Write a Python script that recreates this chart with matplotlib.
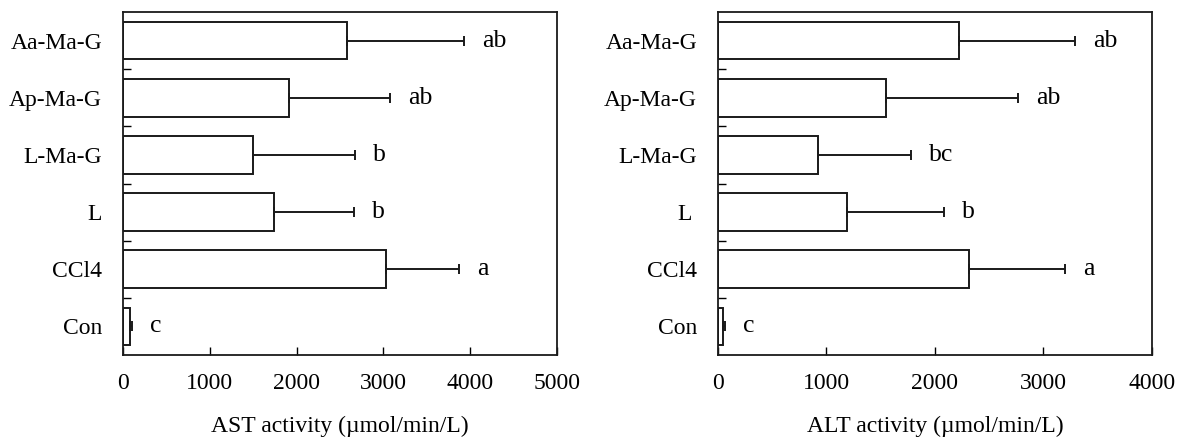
import matplotlib
matplotlib.use("Agg")
import matplotlib.pyplot as plt
import numpy as np

plt.rcParams["font.family"] = ["Liberation Serif", "DejaVu Serif"]
plt.rcParams["font.size"] = 17

# bottom to top
groups = ["Con", "CCl4", "L", "L-Ma-G", "Ap-Ma-G", "Aa-Ma-G"]

ast_mean = [85, 3026, 1739, 1500, 1910, 2579]
ast_sd = [22, 844, 917, 1177, 1172, 1355]
ast_letters = ["c", "a", "b", "b", "ab", "ab"]

alt_mean = [45, 2318, 1188, 919, 1551, 2224]
alt_sd = [17, 881, 898, 863, 1216, 1071]
alt_letters = ["c", "a", "b", "bc", "ab", "ab"]


def draw_panel(ax, means, sds, letters, xmax, xlabel, ylabels):
    y = np.arange(len(means))
    ax.barh(y, means, height=0.66, color="white", edgecolor="#1a1a1a", linewidth=1.4)
    ax.errorbar(means, y, xerr=[np.zeros(len(sds)), sds], fmt="none",
                ecolor="#1a1a1a", elinewidth=1.4, capsize=3.5, capthick=1.4)
    for yi, m, s, lab in zip(y, means, sds, letters):
        ax.annotate(lab, (m + s, yi), xytext=(13, 0), textcoords="offset points",
                    ha="left", va="center", fontsize=18.5)
    ax.set_xlim(0, xmax)
    ax.set_ylim(-0.5, len(means) - 0.5)
    ax.set_xticks(np.arange(0, xmax + 1, 1000))
    ax.set_yticks(y)
    ax.set_yticklabels(ylabels)
    ax.set_yticks(y[:-1] + 0.5, minor=True)
    ax.tick_params(axis="x", direction="in", length=6, width=1.0, pad=13, labelsize=17)
    ax.tick_params(axis="y", which="major", length=0, pad=15, labelsize=17)
    ax.tick_params(axis="y", which="minor", direction="in", length=6, width=1.0)
    ax.set_xlabel(xlabel, fontsize=17, labelpad=16)
    for sp in ax.spines.values():
        sp.set_linewidth(1.3)
        sp.set_color("#1a1a1a")


fig = plt.figure(figsize=(11.77, 4.38), dpi=100)
ax1 = fig.add_axes([0.1045, 0.1895, 0.3687, 0.783])
ax2 = fig.add_axes([0.610, 0.1895, 0.3687, 0.783])

draw_panel(ax1, ast_mean, ast_sd, ast_letters, 5000,
           "AST activity (µmol/min/L)", groups)
draw_panel(ax2, alt_mean, alt_sd, alt_letters, 4000,
           "ALT activity (µmol/min/L)", [g + " " if g == "L" else g for g in groups])

fig.savefig("out.png", dpi=100)
